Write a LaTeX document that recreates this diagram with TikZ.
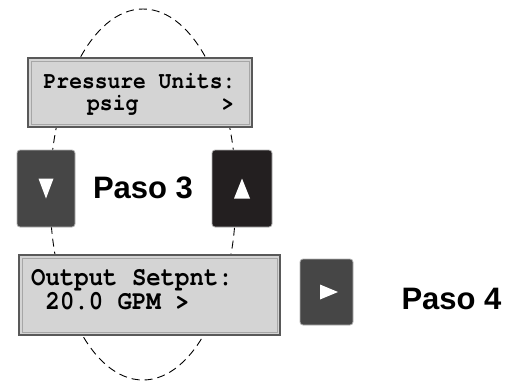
\documentclass[tikz,border=0pt]{standalone}
\usepackage{graphicx}
\usepackage{fontspec}
\setmainfont{Liberation Sans}
\newfontfamily\lcdfont{texgyrecursor}[Extension=.otf, UprightFont=*-regular, BoldFont=*-bold]
\newcommand{\lcdtxt}[1]{\scalebox{1}[1.12]{#1}}
\usetikzlibrary{positioning}
\definecolor{lcdgray}{HTML}{D4D4D4}
\definecolor{keygray}{HTML}{464646}
\definecolor{keyblack}{HTML}{231F20}

\begin{document}
\begin{tikzpicture}
	[x=1pt,y=1pt,
	 lcd/.style={draw=black!65, fill=lcdgray, line width=1.2pt, inner sep=0pt},
	 lcdin/.style={draw=black!35, line width=0.6pt},
	 lcdline/.style={anchor=base west, inner sep=0pt, font=\lcdfont\bfseries\fontsize{21.3}{22}\selectfont},
	 lcdbig/.style={lcdline, font=\lcdfont\bfseries\fontsize{24}{24}\selectfont},
	 key/.style={draw=black!30, line width=0.8pt, rounded corners=3pt, inner sep=0pt},
	 paso/.style={anchor=base, inner sep=0pt, font=\bfseries\fontsize{31}{31}\selectfont}]
	\useasboundingbox (0,0) rectangle (514,384);
	% dashed ring behind displays and keys
	\coordinate (ring) at (143,189.5);
	\draw[dash pattern=on 8pt off 5pt, line width=0.9pt] (ring) ellipse [x radius=93, y radius=185.5];

	% displays
	\node[lcd, minimum width=224, minimum height=69] (units) at (140,291.5) {};
	\draw[lcdin] ([shift={(3.5,-3.5)}]units.north west) rectangle ([shift={(-3.5,3.5)}]units.south east);
	\node[lcdline] (units1) at (43.5,296) {\lcdtxt{Pressure Units:}};
	\node[lcdline] (units2) at (87,274) {\lcdtxt{psig\hspace{3.9em}>}};

	\node[lcd, minimum width=261, minimum height=80] (setp) at (149.5,89) {};
	\draw[lcdin] ([shift={(3.5,-3.5)}]setp.north west) rectangle ([shift={(-3.5,3.5)}]setp.south east);
	\node[lcdbig] (setp1) at (31,98.5) {\lcdtxt{Output Setpnt:}};
	\node[lcdbig] (setp2) at (31,74.5) {\lcdtxt{\hphantom{0}20.0 GPM >}};

	% keys
	\node[key, fill=keygray, minimum width=58, minimum height=77] (down) at (46,195.5) {};
	\fill[white] ([shift={(-7.5,10)}]down.center) -- ([shift={(7.5,10)}]down.center) -- ([shift={(0,-10)}]down.center) -- cycle;
	\node[key, fill=keyblack, minimum width=60, minimum height=77] (up) at (242,195.5) {};
	\fill[white] ([shift={(-8,-10)}]up.center) -- ([shift={(8,-10)}]up.center) -- ([shift={(0,10)}]up.center) -- cycle;
	\node[key, fill=keygray, minimum width=53, minimum height=66] (next) at (326.5,92) {};
	\fill[white] ([shift={(-6.5,7.5)}]next.center) -- ([shift={(11.5,0)}]next.center) -- ([shift={(-6.5,-7.5)}]next.center) -- cycle;

	\node[paso] (paso3) at (143,186) {Paso 3};
	\node[paso] (paso4) at (451.5,75) {Paso 4};
\end{tikzpicture}
\end{document}
